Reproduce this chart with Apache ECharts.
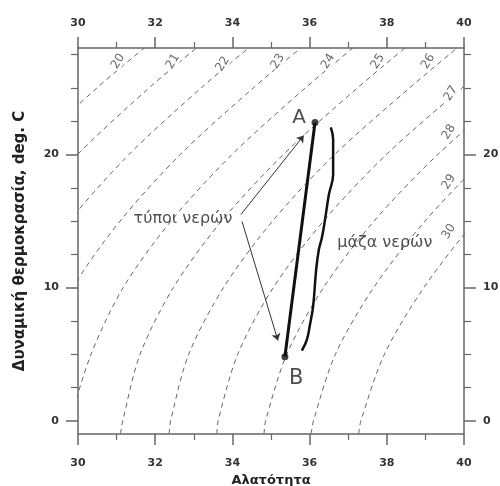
<!DOCTYPE html>
<html>
<head>
<meta charset="utf-8">
<script src="https://cdn.jsdelivr.net/npm/echarts@6/dist/echarts.min.js"></script>
<style>
  html, body { margin: 0; padding: 0; background: #fff; }
  #chart { width: 500px; height: 486px; }
</style>
</head>
<body>
<div id="chart"></div>
<script>
var tempLevels = [-1, 0, 5, 10, 15, 20, 25, 28];
// salinity of each sigma-theta line at those temperatures
var sig20 = [24.95, 24.99, 25.28, 25.97, 27.14, 28.65, 30.49, 31.72];
var sig21 = [26.18, 26.22, 26.54, 27.27, 28.46, 29.99, 31.84, 33.07];
var sig22 = [27.41, 27.45, 27.81, 28.57, 29.78, 31.32, 33.19, 34.42];
var sig23 = [28.64, 28.69, 29.08, 29.87, 31.09, 32.65, 34.54, 35.77];
var sig24 = [29.75, 29.80, 30.34, 31.17, 32.41, 33.99, 35.89, 37.12];
var sig25 = [31.10, 31.16, 31.61, 32.47, 33.72, 35.32, 37.24, 38.47];
var sig26 = [32.36, 32.40, 32.87, 33.77, 35.04, 36.65, 38.59, 39.82];
var sig27 = [33.60, 33.63, 34.14, 35.06, 36.36, 37.99, 39.95, 41.20];
var sig28 = [34.82, 34.86, 35.41, 36.36, 37.67, 39.32, 41.30, 42.60];
var sig29 = [36.04, 36.10, 36.67, 37.66, 38.99, 40.65, 42.60, 43.90];
var sig30 = [37.27, 37.33, 37.94, 38.96, 40.30, 41.99, 43.90, 45.20];
var isoLines = [sig20, sig21, sig22, sig23, sig24, sig25, sig26, sig27, sig28, sig29, sig30];

// where the contour labels sit
var labelText = ['20', '21', '22', '23', '24', '25', '26', '27', '28', '29', '30'];
var labelS = [31.04, 32.46, 33.75, 35.18, 36.48, 37.77, 39.07, 39.66, 39.61, 39.61, 39.61];
var labelT = [27.0, 27.0, 26.8, 27.0, 27.0, 27.0, 27.0, 24.6, 21.7, 17.95, 14.2];

// water types A and B
var typeS = [36.14, 35.36];
var typeT = [22.4, 4.8];

// water mass curve
var massS = [36.55, 36.61, 36.61, 36.50, 36.40, 36.32, 36.24, 36.17, 36.09, 36.01, 35.93, 35.80];
var massT = [22.03, 21.13, 18.50, 16.99, 15.11, 13.76, 12.86, 11.35, 8.57, 7.22, 6.09, 5.26];

// arrows from the "water types" note
var arrowFrom = [[34.22, 15.49], [34.25, 14.96]];
var arrowTo = [[35.85, 21.43], [35.18, 6.02]];

// annotations
var noteText = ['τύποι νερών', 'μάζα νερών', 'A', 'B'];
var noteS = [32.72, 37.95, 35.73, 35.65];
var noteT = [15.19, 13.38, 22.78, 3.16];
var noteSize = [16, 16, 20, 21];

var xMinor = [31, 33, 35, 37, 39];
var yMajor = [0, 10, 20];
var yMinor = [2.5, 5, 7.5, 12.5, 15, 17.5, 22.5, 25, 27.5];

var axisColor = '#666';
var font = 'DejaVu Sans, sans-serif';
var labelFont = { fontFamily: font, fontWeight: 'bold', fontSize: 11, color: '#333' };

function xAxisDef(pos, major, name) {
  return {
    type: 'value', position: pos, min: 30, max: 40, interval: 2,
    name: name, nameLocation: 'middle', nameGap: 39,
    nameTextStyle: { fontFamily: font, fontWeight: 'bold', fontSize: 13, color: '#222' },
    axisLine: { show: major, onZero: false, lineStyle: { color: axisColor, width: 1.5 } },
    axisTick: major
      ? { show: true, inside: false, length: 11, lineStyle: { color: axisColor, width: 1.5 } }
      : { show: true, inside: false, length: 6, customValues: xMinor, lineStyle: { color: axisColor, width: 1.2 } },
    axisLabel: Object.assign({ show: major, margin: pos === 'bottom' ? 24 : 19 }, labelFont),
    splitLine: { show: false }
  };
}

function yAxisDef(pos, major, name) {
  return {
    type: 'value', position: pos, min: -1, max: 28,
    name: name, nameLocation: 'middle', nameGap: 50,
    nameTextStyle: { fontFamily: font, fontWeight: 'bold', fontSize: 15, color: '#222' },
    axisLine: { show: major, onZero: false, lineStyle: { color: axisColor, width: 1.5 } },
    axisTick: { show: true, inside: false, length: major ? 12 : 7,
      customValues: major ? yMajor : yMinor, lineStyle: { color: axisColor, width: major ? 1.5 : 1.2 } },
    axisLabel: Object.assign({ show: major, margin: 19, customValues: yMajor }, labelFont),
    splitLine: { show: false }
  };
}

var series = isoLines.map(function (sal) {
  return {
    type: 'line', xAxisIndex: 0, yAxisIndex: 0,
    data: tempLevels.map(function (t, i) { return [sal[i], t]; }),
    showSymbol: false, smooth: 0.3, silent: true, clip: true,
    lineStyle: { color: '#666', width: 1, type: [5, 4] },
    z: 1
  };
});

series.push({
  type: 'scatter', xAxisIndex: 0, yAxisIndex: 0, silent: true,
  symbolSize: 1, itemStyle: { color: 'rgba(0,0,0,0)' },
  data: labelS.map(function (s, i) { return [s, labelT[i], labelText[i]]; }),
  label: {
    show: true, position: 'inside', rotate: 58,
    formatter: function (p) { return p.value[2]; },
    fontFamily: font, fontSize: 12, color: '#444',
    backgroundColor: '#fff', padding: [0, 1]
  },
  z: 2
});

series.push({
  type: 'line', xAxisIndex: 0, yAxisIndex: 0, silent: true,
  data: typeS.map(function (s, i) { return [s, typeT[i]]; }),
  showSymbol: false, lineStyle: { color: '#111', width: 3 }, z: 5
});

series.push({
  type: 'line', xAxisIndex: 0, yAxisIndex: 0, silent: true,
  data: massS.map(function (s, i) { return [s, massT[i]]; }),
  showSymbol: false, smooth: 0.4, lineStyle: { color: '#111', width: 2.5 }, z: 5
});

series.push({
  type: 'scatter', xAxisIndex: 0, yAxisIndex: 0, silent: true,
  data: typeS.map(function (s, i) { return [s, typeT[i]]; }),
  symbolSize: 7, itemStyle: { color: '#111' }, z: 6
});

series.push({
  type: 'lines', coordinateSystem: 'cartesian2d', xAxisIndex: 0, yAxisIndex: 0, silent: true,
  data: arrowFrom.map(function (a, i) { return { coords: [a, arrowTo[i]] }; }),
  symbol: ['none', 'arrow'], symbolSize: 7,
  lineStyle: { color: '#333', width: 1, opacity: 1 }, z: 4
});

series.push({
  type: 'scatter', xAxisIndex: 0, yAxisIndex: 0, silent: true,
  symbolSize: 1, itemStyle: { color: 'rgba(0,0,0,0)' },
  data: noteS.map(function (s, i) {
    return { value: [s, noteT[i], noteText[i]], label: { fontSize: noteSize[i] } };
  }),
  label: {
    show: true, position: 'inside',
    formatter: function (p) { return p.value[2]; },
    fontFamily: font, color: '#222'
  },
  z: 7
});

var chart = echarts.init(document.getElementById('chart'));
chart.setOption({
  backgroundColor: '#fff',
  animation: false,
  grid: { left: 78, right: 36, top: 48, bottom: 52, outerBoundsMode: 'none' },
  xAxis: [
    xAxisDef('bottom', true, 'Αλατότητα'),
    xAxisDef('top', true, ''),
    xAxisDef('bottom', false, ''),
    xAxisDef('top', false, '')
  ],
  yAxis: [
    yAxisDef('left', true, 'Δυναμική θερμοκρασία, deg. C'),
    yAxisDef('left', false, ''),
    yAxisDef('right', true, ''),
    yAxisDef('right', false, '')
  ],
  series: series
});
</script>
</body>
</html>
